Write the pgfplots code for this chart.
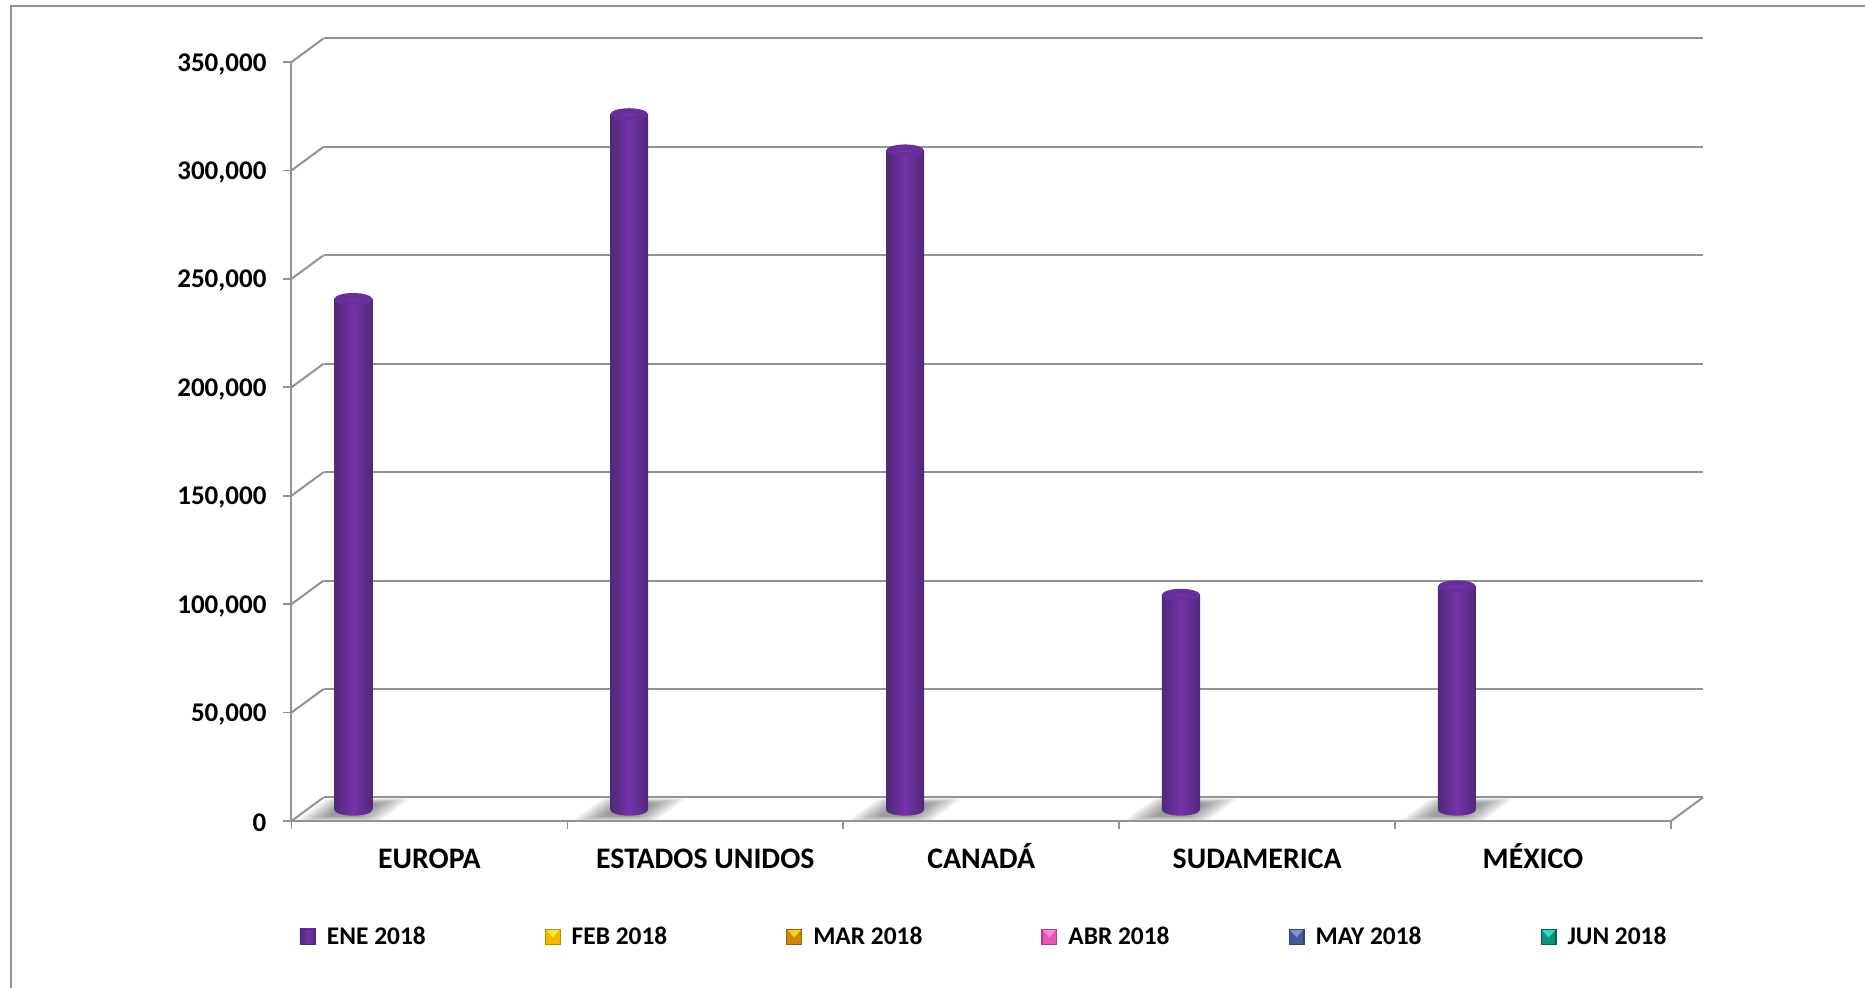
\documentclass[border=0pt]{standalone}
\usepackage{fontspec}
\setmainfont{Carlito}
\usepackage{pgfplots}
\pgfplotsset{compat=1.18}
\definecolor{gridc}{HTML}{929292}
\definecolor{bardark}{HTML}{4F2A78}
\definecolor{barmid}{HTML}{7632A8}
\definecolor{capc}{HTML}{6A2E9A}
\definecolor{purA}{HTML}{6B2F9C}\definecolor{purB}{HTML}{A469E0}\definecolor{purC}{HTML}{4D2A78}
\definecolor{yelA}{HTML}{F2B800}\definecolor{yelB}{HTML}{FFE93A}\definecolor{yelC}{HTML}{B58A00}
\definecolor{ornA}{HTML}{C98A00}\definecolor{ornB}{HTML}{FFD21E}\definecolor{ornC}{HTML}{8F6400}
\definecolor{pnkA}{HTML}{E857B8}\definecolor{pnkB}{HTML}{FF8AE0}\definecolor{pnkC}{HTML}{A8408A}
\definecolor{bluA}{HTML}{465A96}\definecolor{bluB}{HTML}{7D93E0}\definecolor{bluC}{HTML}{33446F}
\definecolor{teaA}{HTML}{0F8F7C}\definecolor{teaB}{HTML}{2CE0C4}\definecolor{teaC}{HTML}{0B6055}
\newcommand{\legsq}[3]{%
  \fill[#1] (0pt,-4pt) rectangle (8pt,4pt);
  \fill[#2] (0.8pt,3.4pt)--(7.2pt,3.4pt)--(4pt,-0.2pt)--cycle;
  \draw[#3,line width=.6pt] (0.3pt,-3.7pt) rectangle (7.7pt,3.7pt);}
\pgfdeclareplotmark{cylcap}{%
  \fill[capc,draw=none] (0,0) ellipse [x radius=9.4pt,y radius=3pt];
  \fill[barmid,draw=none] (0,-0.3pt) ellipse [x radius=4pt,y radius=.6pt];}
\pgfdeclareplotmark{cylbase}{%
  \shade[draw=none,left color=bardark,right color=bardark,middle color=barmid] (0,0) ellipse [x radius=9.5pt,y radius=3pt];}
\pgfdeclareplotmark{floorshadow}{%
  \foreach \w/\h in {8/3.0,9/3.3,10/3.6,11/3.8,12/4.0,13/4.2,14/4.4,15/4.6,16/4.8,17/5.0,18/5.2,19/5.4,20/5.6,21/5.8}{
    \fill[black,opacity=.036,draw=none,rounded corners=2pt]
      ({(-\w-1.36*\h)*1pt},{-\h*1pt}) -- ({(\w-1.36*\h)*1pt},{-\h*1pt})
      -- ({(\w+1.36*\h)*1pt},{\h*1pt}) -- ({(-\w+1.36*\h)*1pt},{\h*1pt}) -- cycle;}}
\pgfplotsset{
  base/.style={scale only axis,width=689.75pt,height=379.5pt,anchor=south west,
    xmin=0,xmax=5,ymin=0,ymax=350000,clip=false},
  cyl/.style={draw=none,left color=bardark,right color=bardark,middle color=barmid,bar shift=0pt},
  nul/.style={draw=none,fill=none,bar shift=0pt},
}
\begin{document}
\begin{tikzpicture}
\useasboundingbox (0pt,0pt) rectangle (932.5pt,494pt);
\draw[gridc,line width=1pt] (5.5pt,0pt) -- (5.5pt,491.2pt) -- (932.5pt,491.2pt);
% floor shadows
\begin{axis}[base,at={(155.25pt,89.15pt)},hide axis]
\addplot[only marks,mark=floorshadow] coordinates {(0.155,0)(1.155,0)(2.155,0)(3.155,0)(4.155,0)};
\end{axis}
% back wall and floor lines
\begin{axis}[base,at={(161.75pt,95.25pt)},xtick=\empty,ymajorgrids,
  ytick={0,50000,100000,150000,200000,250000,300000,350000},yticklabels={},
  scaled y ticks=false,
  grid style={gridc,line width=1pt},y tick style={draw=none},
  axis line style={draw=none}]
\end{axis}
% front frame and labels
\begin{axis}[base,at={(145.75pt,83.5pt)},axis x line*=bottom,axis y line*=left,
  axis line style={gridc,line width=1pt,-},
  tick style={gridc,line width=.8pt},tick align=outside,major tick length=4pt,
  xtick={0,1,2,3,4,5},x tick label as interval,
  xticklabels={EUROPA,ESTADOS UNIDOS,CANADÁ,SUDAMERICA,MÉXICO},
  ytick={0,50000,100000,150000,200000,250000,300000,350000},
  scaled y ticks=false,
  yticklabel style={font=\bfseries\fontsize{13.5}{15}\selectfont,xshift=-5pt,yshift=-1pt,
    /pgf/number format/.cd,fixed,1000 sep={,},assume math mode=true},
  xticklabel style={font=\bfseries\fontsize{14.9}{16}\selectfont,
    text height=9pt,text depth=0pt,yshift=-7pt}]
\pgfplotsinvokeforeach{0,50000,100000,150000,200000,250000,300000,350000}{
  \draw[gridc,line width=1pt] (axis cs:0,#1) -- ++(16pt,11.75pt);}
\draw[gridc,line width=1pt] (axis cs:5,0) -- ++(16pt,11.75pt);
\end{axis}
% bars
\begin{axis}[base,at={(155.25pt,89.15pt)},hide axis,ybar=0pt,bar width=0.138,
  legend columns=6,
  legend style={at={(-0.0079,-0.1677)},anchor=west,draw=none,fill=none,inner sep=0pt,
    font=\bfseries\fontsize{12.7}{15}\selectfont,nodes={inner sep=0pt},
    /tikz/every odd column/.style={column sep=5.5pt},
    /tikz/every even column/.style={column sep=59.5pt}},
  legend cell align=left]
\addplot[cyl,legend image code/.code={\legsq{purA}{purB}{purC}}] coordinates {(0.155,235500)};
\addlegendentry{ENE 2018}
\addplot[nul,legend image code/.code={\legsq{yelA}{yelB}{yelC}}]
  coordinates {(0.293,0)(1.293,0)(2.293,0)(3.293,0)(4.293,0)};
\addlegendentry{FEB 2018}
\addplot[nul,legend image code/.code={\legsq{ornA}{ornB}{ornC}}]
  coordinates {(0.431,0)(1.431,0)(2.431,0)(3.431,0)(4.431,0)};
\addlegendentry{MAR 2018}
\addplot[nul,legend image code/.code={\legsq{pnkA}{pnkB}{pnkC}}]
  coordinates {(0.569,0)(1.569,0)(2.569,0)(3.569,0)(4.569,0)};
\addlegendentry{ABR 2018}
\addplot[nul,legend image code/.code={\legsq{bluA}{bluB}{bluC}}]
  coordinates {(0.707,0)(1.707,0)(2.707,0)(3.707,0)(4.707,0)};
\addlegendentry{MAY 2018}
\addplot[nul,legend image code/.code={\legsq{teaA}{teaB}{teaC}}]
  coordinates {(0.845,0)(1.845,0)(2.845,0)(3.845,0)(4.845,0)};
\addlegendentry{JUN 2018}
\addplot[cyl,forget plot] coordinates {(1.155,320700)};
\addplot[cyl,forget plot] coordinates {(2.155,304000)};
\addplot[cyl,forget plot] coordinates {(3.155,99100)};
\addplot[cyl,forget plot] coordinates {(4.155,103000)};
\addplot[forget plot,sharp plot,only marks,draw=none,mark=cylbase]
  coordinates {(0.155,0)(1.155,0)(2.155,0)(3.155,0)(4.155,0)};
\addplot[forget plot,sharp plot,only marks,draw=none,mark=cylcap]
  coordinates {(0.155,235500)(1.155,320700)(2.155,304000)(3.155,99100)(4.155,103000)};
\end{axis}
\end{tikzpicture}
\end{document}
